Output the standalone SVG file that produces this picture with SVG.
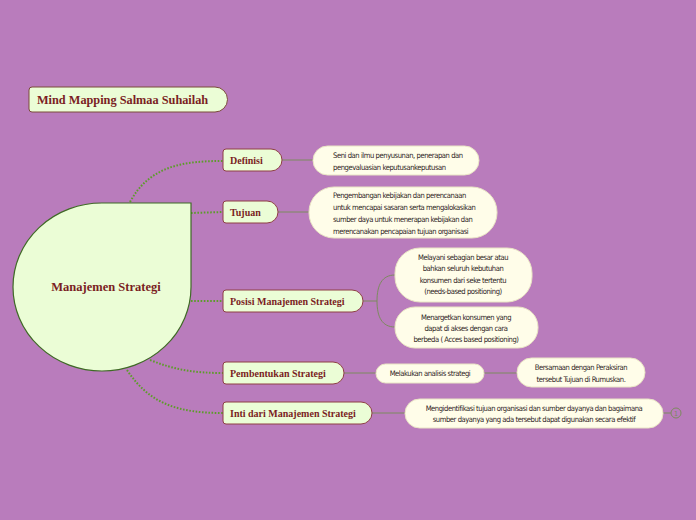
<svg xmlns="http://www.w3.org/2000/svg" width="696" height="520" viewBox="0 0 696 520">
<style>
.bg{fill:#B97CBC}
.topic{fill:#EBFDD6;stroke:#8E3F45;stroke-width:1}
.leaf{fill:#FFFDE9;stroke:#E9E4C4;stroke-width:1}
.ttl{font-family:"Liberation Serif","DejaVu Serif",serif;font-weight:bold;fill:#7A1E23}
.lt{font-family:"DejaVu Sans Condensed","Liberation Sans",sans-serif;font-size:7.6px;letter-spacing:-0.45px;fill:#2E2424}
.dot{fill:none;stroke:#5E9B2C;stroke-width:2;stroke-dasharray:1.6 1.6}
.ln{fill:none;stroke:#7D8A5F;stroke-width:1}
</style>
<rect class="bg" x="0" y="0" width="696" height="520"/>

<g id="connectors">
  <path class="dot" d="M130,202 C150,165 185,161 223,161"/>
  <path class="dot" d="M191,213 L223,212"/>
  <path class="dot" d="M191,301 L223,301"/>
  <path class="dot" d="M150,360 C175,370 195,373 223,373"/>
  <path class="dot" d="M127,370 C150,405 180,413 223,413"/>
  <path class="ln" d="M281,160 L313,160"/>
  <path class="ln" d="M278,212 L309,212"/>
  <path class="ln" d="M363,301 L377,301 C377,285 382,275 395,275"/>
  <path class="ln" d="M377,301 C377,317 382,327 395,327"/>
  <path class="ln" d="M344,373 L376,373"/>
  <path class="ln" d="M484,373 L517,373"/>
  <path class="ln" d="M372,413 L405,413"/>
  <path class="ln" d="M663,413 L671,413"/>
</g>

<g id="title">
  <path class="topic" d="M32,87 L215,87 A12.5,12.5 0 0 1 215,112 L32,112 A3,3 0 0 1 29,109 L29,90 A3,3 0 0 1 32,87 Z" style="stroke:#7A4A3A"/>
  <text class="ttl" x="37" y="104" font-size="12.3">Mind Mapping Salmaa Suhailah</text>
</g>

<g id="central">
  <path d="M13,287 A89,84 0 0 1 102,203 L191,203 L191,287 A89,84 0 0 1 102,371 A89,84 0 0 1 13,287 Z" fill="#EBFDD6" stroke="#3F6A26" stroke-width="1.2"/>
  <text class="ttl" x="106" y="291" font-size="12.5" text-anchor="middle">Manajemen Strategi</text>
</g>

<g id="definisi">
  <path class="topic" d="M226,149 L271,149 A11,11 0 0 1 271,171 L226,171 A3,3 0 0 1 223,168 L223,152 A3,3 0 0 1 226,149 Z"/>
  <text class="ttl" x="230" y="164" font-size="10">Definisi</text>
</g>
<g id="definisi-leaf">
  <rect class="leaf" x="313" y="146" width="166" height="29" rx="14.5"/>
  <text class="lt" x="333" y="157.5">Seni dan ilmu penyusunan, penerapan dan</text>
  <text class="lt" x="333" y="169.5">pengevaluasian keputusankeputusan</text>
</g>

<g id="tujuan">
  <path class="topic" d="M226,201 L267,201 A11,11 0 0 1 267,223 L226,223 A3,3 0 0 1 223,220 L223,204 A3,3 0 0 1 226,201 Z"/>
  <text class="ttl" x="230" y="216" font-size="10">Tujuan</text>
</g>
<g id="tujuan-leaf">
  <rect class="leaf" x="309" y="187" width="188" height="51" rx="25"/>
  <text class="lt" x="333" y="197.5">Pengembangan kebijakan dan perencanaan</text>
  <text class="lt" x="333" y="209.5">untuk mencapai sasaran serta mengalokasikan</text>
  <text class="lt" x="333" y="221.5">sumber daya untuk menerapan kebijakan dan</text>
  <text class="lt" x="333" y="233.5">merencanakan pencapaian tujuan organisasi</text>
</g>

<g id="posisi">
  <path class="topic" d="M226,290 L352,290 A11,11 0 0 1 352,312 L226,312 A3,3 0 0 1 223,309 L223,293 A3,3 0 0 1 226,290 Z"/>
  <text class="ttl" x="230" y="305" font-size="10">Posisi Manajemen Strategi</text>
</g>
<g id="posisi-leaf1">
  <rect class="leaf" x="395" y="248" width="137" height="54" rx="25"/>
  <text class="lt" x="463" y="259.5" text-anchor="middle">Melayani sebagian besar atau</text>
  <text class="lt" x="463" y="271" text-anchor="middle">bahkan seluruh kebutuhan</text>
  <text class="lt" x="463" y="282.5" text-anchor="middle">konsumen dari seke tertentu</text>
  <text class="lt" x="463" y="294" text-anchor="middle">(needs-based positioning)</text>
</g>
<g id="posisi-leaf2">
  <rect class="leaf" x="395" y="307" width="143" height="41" rx="20"/>
  <text class="lt" x="466" y="319.5" text-anchor="middle">Menargetkan konsumen yang</text>
  <text class="lt" x="466" y="330.5" text-anchor="middle">dapat di akses dengan cara</text>
  <text class="lt" x="466" y="341.5" text-anchor="middle">berbeda ( Acces based positioning)</text>
</g>

<g id="pembentukan">
  <path class="topic" d="M226,362 L333,362 A11,11 0 0 1 333,384 L226,384 A3,3 0 0 1 223,381 L223,365 A3,3 0 0 1 226,362 Z"/>
  <text class="ttl" x="230" y="377" font-size="10">Pembentukan Strategi</text>
</g>
<g id="pembentukan-leaf1">
  <rect class="leaf" x="376" y="364" width="108" height="19" rx="9.5"/>
  <text class="lt" x="430" y="376" text-anchor="middle">Melakukan analisis strategi</text>
</g>
<g id="pembentukan-leaf2">
  <rect class="leaf" x="517" y="358" width="128" height="29" rx="14.5"/>
  <text class="lt" x="581" y="369.5" text-anchor="middle">Bersamaan dengan Peraksiran</text>
  <text class="lt" x="581" y="381.5" text-anchor="middle">tersebut Tujuan di Rumuskan.</text>
</g>

<g id="inti">
  <path class="topic" d="M226,402 L361,402 A11,11 0 0 1 361,424 L226,424 A3,3 0 0 1 223,421 L223,405 A3,3 0 0 1 226,402 Z"/>
  <text class="ttl" x="230" y="417" font-size="10">Inti dari Manajemen Strategi</text>
</g>
<g id="inti-leaf">
  <rect class="leaf" x="405" y="399" width="258" height="29" rx="14.5"/>
  <text class="lt" x="534" y="410.5" text-anchor="middle">Mengidentifikasi tujuan organisasi dan sumber dayanya dan bagaimana</text>
  <text class="lt" x="534" y="422" text-anchor="middle">sumber dayanya yang ada tersebut dapat digunakan secara efektif</text>
</g>
<g id="inti-count">
  <circle cx="676" cy="413" r="5" fill="none" stroke="#7D8A5F" stroke-width="1"/>
  <text x="676" y="415.5" font-family="'DejaVu Sans Condensed','Liberation Sans',sans-serif" font-size="7" fill="#7D8A5F" text-anchor="middle">1</text>
</g>
</svg>
